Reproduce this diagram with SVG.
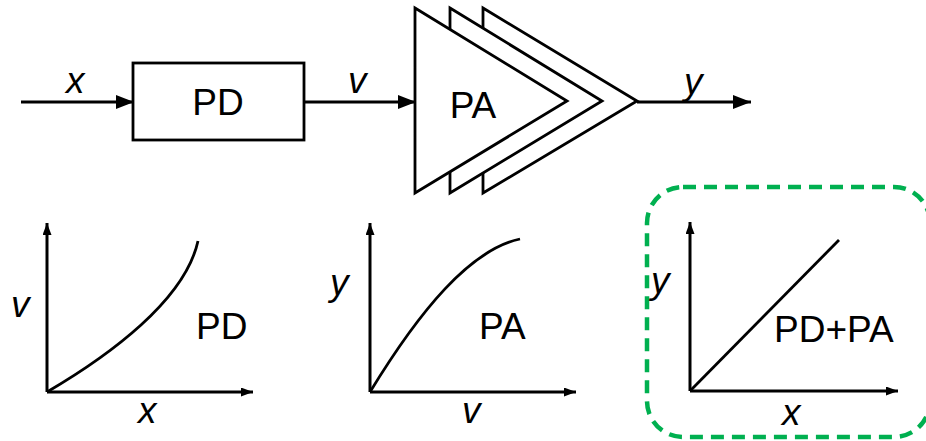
<svg xmlns="http://www.w3.org/2000/svg" width="926" height="441" viewBox="0 0 926 441">
<defs>
<style>
.ln{stroke:#000;stroke-width:2.8;fill:none}
.ax{stroke:#000;stroke-width:3;fill:none}
.blk{fill:#fff;stroke:#000;stroke-width:2.8;stroke-linejoin:miter}
.lbl{font-family:"Liberation Sans",Arial,sans-serif;font-size:37px;fill:#000}
.it{font-family:"Liberation Sans",Arial,sans-serif;font-size:37px;font-style:italic;fill:#000}
</style>
<marker id="big" viewBox="0 0 18 14" refX="18" refY="7" markerWidth="18" markerHeight="14" markerUnits="userSpaceOnUse" orient="auto">
<path d="M0,0 L18,7 L0,14 Z" fill="#000"/>
</marker>
<marker id="sm" viewBox="0 0 12 9" refX="12" refY="4.5" markerWidth="12" markerHeight="9" markerUnits="userSpaceOnUse" orient="auto">
<path d="M0,0 L12,4.5 L0,9 Z" fill="#000"/>
</marker>
</defs>
<rect width="926" height="441" fill="#fff"/>
<g id="connectors">
<line class="ln" x1="21" y1="102" x2="134" y2="102" marker-end="url(#big)"/>
<line class="ln" x1="304" y1="102" x2="416" y2="102" marker-end="url(#big)"/>
<line class="ln" x1="637" y1="102" x2="751" y2="102" marker-end="url(#big)"/>
</g>
<g id="label-x"><text class="it" x="66" y="93">x</text></g>
<g id="pd-block">
<rect class="blk" x="133" y="63" width="171" height="77"/>
<text class="lbl" x="218" y="115" text-anchor="middle">PD</text>
</g>
<g id="label-v"><text class="it" x="348" y="93">v</text></g>
<g id="pa-block">
<path class="blk" d="M483,8 L637,101 L483,193 Z"/>
<path class="blk" d="M450,8 L602,101 L450,193 Z"/>
<path class="blk" d="M415,8 L567,101 L415,193 Z"/>
<text class="lbl" x="473" y="118" text-anchor="middle">PA</text>
</g>
<g id="label-y"><text class="it" x="684" y="94">y</text></g>
<g id="plot-pd">
<line class="ax" x1="47" y1="392" x2="47" y2="223" marker-end="url(#sm)"/>
<line class="ax" x1="47" y1="392" x2="253" y2="392" marker-end="url(#sm)"/>
<path class="ln" d="M47,392 C110,355 185,300 198,241"/>
<text class="it" x="11" y="317">v</text>
<text class="lbl" x="196" y="339">PD</text>
<text class="it" x="138" y="423">x</text>
</g>
<g id="plot-pa">
<line class="ax" x1="370" y1="392" x2="370" y2="223" marker-end="url(#sm)"/>
<line class="ax" x1="370" y1="392" x2="576" y2="392" marker-end="url(#sm)"/>
<path class="ln" d="M370,392 C420,310 470,250 520,239"/>
<text class="it" x="330" y="295">y</text>
<text class="lbl" x="479" y="339">PA</text>
<text class="it" x="462" y="423">v</text>
</g>
<g id="plot-combined">
<rect x="647" y="187" width="283" height="250" rx="36" ry="36" fill="none" stroke="#00b050" stroke-width="4.5" stroke-dasharray="13,8"/>
<line class="ax" x1="690" y1="391" x2="690" y2="222" marker-end="url(#sm)"/>
<line class="ax" x1="690" y1="391" x2="898" y2="391" marker-end="url(#sm)"/>
<line class="ln" x1="690" y1="391" x2="839" y2="240"/>
<text class="it" x="651" y="293">y</text>
<text class="lbl" x="774" y="342">PD+PA</text>
<text class="it" x="782" y="425">x</text>
</g>
</svg>
